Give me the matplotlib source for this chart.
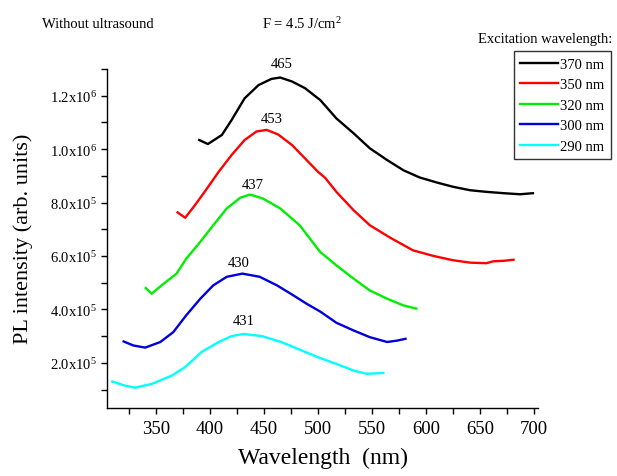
import matplotlib
matplotlib.use('Agg')
import matplotlib.pyplot as plt
from matplotlib.ticker import MultipleLocator, FuncFormatter

plt.rcParams['font.family'] = ['Liberation Serif', 'DejaVu Serif']
plt.rcParams['mathtext.fontset'] = 'custom'
plt.rcParams['mathtext.rm'] = 'Liberation Serif'
plt.rcParams['mathtext.it'] = 'Liberation Serif:italic'
plt.rcParams['mathtext.default'] = 'regular'

# PL spectra for each excitation wavelength (nm, arb. units)
wl_370 = [390, 398, 411, 420, 432, 445, 457, 465, 476, 488, 500, 502, 517, 533,
          548, 564, 579, 594, 610, 625, 641, 656, 672, 687, 699]
pl_370 = [1.034e6, 1.019e6, 1.053e6, 1.109e6, 1.190e6, 1.240e6, 1.263e6, 1.268e6,
          1.253e6, 1.228e6, 1.190e6, 1.184e6, 1.115e6, 1.059e6, 1.003e6, 0.959e6,
          0.921e6, 0.894e6, 0.875e6, 0.859e6, 0.846e6, 0.840e6, 0.835e6, 0.831e6,
          0.835e6]

wl_350 = [370, 377, 386, 395, 408, 420, 432, 443, 452.5, 463, 476, 488, 500, 506.5,
          517, 533, 548, 567, 588, 607, 625, 641, 656, 662, 672, 681]
pl_350 = [0.763e6, 0.743e6, 0.790e6, 0.840e6, 0.915e6, 0.978e6, 1.034e6, 1.066e6,
          1.072e6, 1.055e6, 1.015e6, 0.965e6, 0.915e6, 0.893e6, 0.840e6, 0.771e6,
          0.715e6, 0.668e6, 0.621e6, 0.600e6, 0.584e6, 0.575e6, 0.573e6, 0.580e6,
          0.582e6, 0.586e6]

wl_320 = [340.5, 346, 357, 369, 378, 391, 403, 415.5, 428, 437, 449, 465, 483, 502,
          517, 533, 548, 564, 579, 591]
pl_320 = [0.480e6, 0.459e6, 0.496e6, 0.534e6, 0.590e6, 0.653e6, 0.715e6, 0.778e6,
          0.818e6, 0.830e6, 0.815e6, 0.778e6, 0.715e6, 0.615e6, 0.565e6, 0.515e6,
          0.471e6, 0.440e6, 0.415e6, 0.403e6]

wl_300 = [320, 329, 340, 354, 366, 378, 391, 403, 415.5, 430, 446, 462, 477, 489.5,
          502, 517, 533, 548, 564, 573, 581]
pl_300 = [0.280e6, 0.265e6, 0.257e6, 0.278e6, 0.315e6, 0.378e6, 0.440e6, 0.490e6,
          0.522e6, 0.534e6, 0.522e6, 0.490e6, 0.453e6, 0.421e6, 0.392e6, 0.350e6,
          0.321e6, 0.296e6, 0.278e6, 0.283e6, 0.290e6]

wl_290 = [309.5, 321, 330.5, 346, 364.5, 377, 392, 408, 420, 431, 448, 466, 485,
          500, 517, 533, 545, 560.5]
pl_290 = [0.130e6, 0.115e6, 0.107e6, 0.121e6, 0.152e6, 0.184e6, 0.240e6, 0.278e6,
          0.300e6, 0.308e6, 0.300e6, 0.278e6, 0.246e6, 0.221e6, 0.196e6, 0.171e6,
          0.159e6, 0.162e6]

series = [
    ('370 nm', wl_370, pl_370, 'black'),
    ('350 nm', wl_350, pl_350, 'red'),
    ('320 nm', wl_320, pl_320, '#00ee00'),
    ('300 nm', wl_300, pl_300, '#0000dd'),
    ('290 nm', wl_290, pl_290, 'cyan'),
]

# peak position labels
peak_labels = ['465', '453', '437', '430', '431']
peak_x = [466, 457, 439.5, 427, 431.5]
peak_y = [1.322e6, 1.113e6, 0.868e6, 0.575e6, 0.359e6]

fig = plt.figure(figsize=(6.17, 4.77), dpi=100)
ax = fig.add_axes([0.1734, 0.1426, 0.6986, 0.7107])

for name, x, y, c in series:
    ax.plot(x, y, color=c, lw=1.7, label=name, solid_joinstyle='round')

for t, x, y in zip(peak_labels, peak_x, peak_y):
    ax.text(x, y, t, ha='center', va='center', fontsize=10.5)

ax.set_xlim(304.6, 703.7)
ax.set_ylim(3.1e4, 1.3e6)

ax.xaxis.set_major_locator(MultipleLocator(50))
ax.xaxis.set_minor_locator(MultipleLocator(25))
ax.yaxis.set_major_locator(MultipleLocator(2e5))
ax.yaxis.set_minor_locator(MultipleLocator(1e5))


def sci(v, pos):
    if v <= 0:
        return ''
    e = 5 if v < 1e6 else 6
    return '%.1fx10$^{%d}$' % (v / 10 ** e, e)


ax.yaxis.set_major_formatter(FuncFormatter(sci))

for side in ['top', 'right']:
    ax.spines[side].set_visible(False)
for side in ['left', 'bottom']:
    ax.spines[side].set_linewidth(1.0)

ax.tick_params(axis='both', which='both', direction='out', width=1.0)
ax.tick_params(axis='both', which='major', length=4)
ax.tick_params(axis='both', which='minor', length=4)
ax.tick_params(axis='x', labelsize=13.5, pad=5)
ax.tick_params(axis='y', labelsize=10.5, pad=3)

fig.text(0.5227, 0.04, 'Wavelength  (nm)', ha='center', va='center', fontsize=17)
fig.text(0.037, 0.499, 'PL intensity (arb. units)', ha='center', va='center',
         rotation=90, fontsize=16)

fig.text(42 / 617, 1 - 24 / 477, 'Without ultrasound', ha='left', va='center', fontsize=10.5)
fig.text(262 / 617, 1 - 24 / 477, 'F = 4.5 J/cm$^2$', ha='left', va='center', fontsize=10.5)
fig.text(612 / 617, 1 - 39 / 477, 'Excitation wavelength:', ha='right', va='center',
         fontsize=10.5)

leg = fig.legend(loc='upper right', bbox_to_anchor=(611 / 617, 1 - 52 / 477),
                 fontsize=10.5, frameon=True, fancybox=False, edgecolor='black',
                 handlelength=2.6, handletextpad=0.15, labelspacing=0.5,
                 borderpad=0.45, borderaxespad=0)
leg.get_frame().set_linewidth(1.0)

fig.savefig('out.png', dpi=100)
plt.close(fig)
